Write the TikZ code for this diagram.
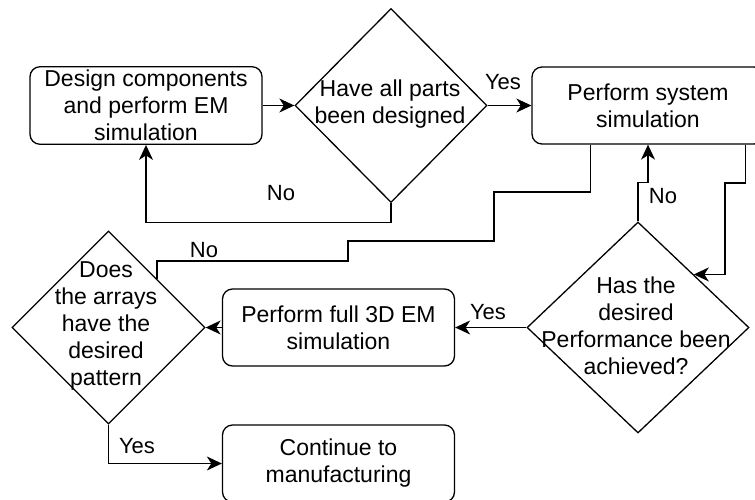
\documentclass[tikz,border=0pt]{standalone}
\usepackage{fontspec}
\setmainfont{Liberation Sans}
\usetikzlibrary{shapes.geometric,arrows.meta}

\begin{document}
\begin{tikzpicture}[x=1pt, y=-1pt, line width=1.3pt, >={Stealth[length=15pt,width=14pt,inset=4.5pt]}]
    \useasboundingbox (0,0) rectangle (755,499);
    \clip (0,0) rectangle (755,499);

    % process boxes
    \begin{scope}[every node/.style={rectangle, rounded corners=10pt, draw, line width=1.3pt, minimum width=232pt, minimum height=77pt, align=center, font=\fontsize{23}{27}\selectfont}]
        \node (1) at (146,105.5) {Design components\\and perform EM\\simulation};
        \node (3) at (648,105.5) {Perform system\\simulation};
        \node (5) at (338.5,327.5) {Perform full 3D EM\\simulation};
        \node (7) at (338.5,463.5) {Continue to\\manufacturing};
    \end{scope}

    % decisions
    \begin{scope}[every node/.style={diamond, draw, line width=1.3pt, inner sep=0pt}]
        \node [minimum width=192pt, minimum height=194pt] (2) at (391,105.5) {};
        \node [minimum width=222pt, minimum height=211pt] (4) at (638,327.5) {};
        \node [minimum width=193pt, minimum height=193pt] (6) at (108.5,327.5) {};
    \end{scope}

    \begin{scope}[every node/.style={align=center, font=\fontsize{23}{27}\selectfont}]
        \node (2t) at (390,104) {Have all parts\\been designed};
        \node (4t) at (636,326) {Has the\\desired\\Performance been\\achieved?};
        \node (6t) at (106,326) {Does\\the arrays\\have the\\desired\\pattern};
    \end{scope}

    % branch labels
    \begin{scope}[every node/.style={font=\fontsize{22}{26}\selectfont, inner sep=0pt}]
        \node (no1) at (281,193) {No};
        \node (yes1) at (503,82) {Yes};
        \node (no2) at (204,250) {No};
        \node (no3) at (663,196) {No};
        \node (yes2) at (488,312) {Yes};
        \node (yes3) at (137,446) {Yes};
    \end{scope}

    \begin{scope}[every edge/.style={draw, line width=1.3pt}]
        \path [->] (1) edge (2);
        \path [->] (2) edge (3);
        \path [->] (4) edge (5);
        \path [->] (5) edge (6);
    \end{scope}

    \draw [->] (2.south) -- ++(0,19) -| (1.south);
    \draw ([xshift=59pt]3.south west) |- (494,192) |- (348,241) -- (348,261) -| (6.north east);
    \draw [->] ([xshift=-19pt]3.south east) |- (725,183) |- (4.north east);
    \draw [->] (4.north) -- ++(0,-39) -| (3.south);
    \draw [->] (6.south) |- (7.west);
\end{tikzpicture}
\end{document}
